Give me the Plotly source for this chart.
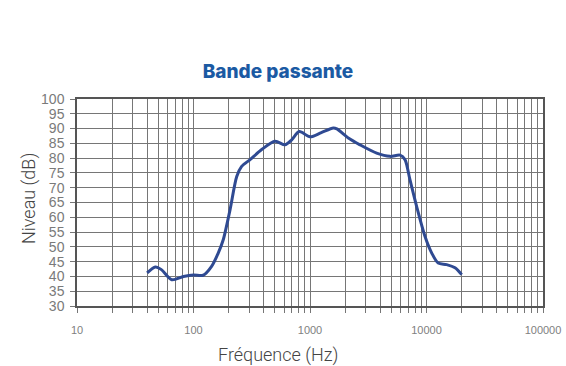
import plotly.graph_objects as go

freq_hz = [40, 47, 53, 65, 82, 100, 121, 143, 163, 180, 206, 235, 259, 306, 385, 501, 610, 696, 809,
           1000, 1250, 1585, 1700, 2133, 2686, 3733, 4865, 5929, 6536, 7210, 8225, 9713, 11090,
           12600, 14880, 17570, 20050]
level_db = [41.2, 43.2, 42.3, 38.9, 40.0, 40.5, 40.4, 43.4, 47.9, 52.4, 62.6, 73.8, 77.2, 79.5, 82.9,
            85.7, 84.5, 86.2, 89.0, 87.2, 88.6, 90.2, 89.9, 86.8, 84.5, 81.7, 80.6, 81.0, 79.5, 72.7,
            63.7, 53.5, 47.9, 44.5, 44.0, 42.9, 40.6]

x_grid_vals = [m * 10 ** e for e in range(1, 5) for m in range(1, 10)] + [100000]
x_major_vals = [10, 100, 1000, 10000, 100000]
x_tick_text = [str(v) if v in x_major_vals else "" for v in x_grid_vals]
y_tick_vals = list(range(30, 101, 5))

title_text = "Bande passante"
x_title = "Fréquence (Hz)"
y_title = "Niveau (dB)"

grid_color = "#767676"
W, H = 566, 366
ML, MR, MT, MB = 77, 23, 99, 60

fig = go.Figure()
fig.add_trace(go.Scatter(
    x=freq_hz, y=level_db, mode="lines",
    line=dict(color="#2f4a92", width=3, shape="spline", smoothing=0.8),
    hoverinfo="skip",
))

fig.update_layout(
    width=W, height=H,
    margin=dict(l=ML, r=MR, t=MT, b=MB),
    paper_bgcolor="white", plot_bgcolor="white",
    showlegend=False,
    title=dict(text=title_text, x=278 / W, xanchor="center", xref="container",
               y=1 - 71 / H, yanchor="middle", yref="container",
               font=dict(family="Inter", size=19, weight=800, color="#1b5aa3")),
    annotations=[
        dict(text=x_title, xref="paper", yref="paper",
             x=(278 - ML) / (W - ML - MR), y=-(355 - (H - MB)) / (H - MT - MB),
             xanchor="center", yanchor="middle", showarrow=False,
             font=dict(family="Roboto", size=18, weight=300, color="#444444")),
        dict(text=y_title, xref="paper", yref="paper", textangle=-90,
             x=-(ML - 29) / (W - ML - MR), y=1 - (199 - MT) / (H - MT - MB),
             xanchor="center", yanchor="middle", showarrow=False,
             font=dict(family="Roboto", size=18, weight=300, color="#444444")),
    ],
)

fig.update_xaxes(
    type="log", range=[1, 5], automargin=False,
    tickmode="array", tickvals=x_grid_vals, ticktext=x_tick_text,
    showgrid=True, gridcolor=grid_color, gridwidth=1.2,
    ticks="outside", ticklen=5, tickcolor=grid_color, tickwidth=1,
    ticklabelstandoff=8,
    tickfont=dict(family="Liberation Sans", size=11, color="#808080"),
    showline=True, linecolor="#555555", linewidth=1.5, mirror=True,
    zeroline=False,
)
fig.update_yaxes(
    range=[30, 100], automargin=False,
    tickmode="array", tickvals=y_tick_vals,
    showgrid=True, gridcolor=grid_color, gridwidth=1.4,
    ticks="outside", ticklen=5, tickcolor=grid_color, tickwidth=1,
    ticklabelstandoff=3,
    tickfont=dict(family="Liberation Sans Narrow, Arial Narrow, Liberation Sans", size=14, color="#7a7a7a"),
    showline=True, linecolor="#555555", linewidth=1.5, mirror=True,
    zeroline=False,
)

fig.write_html("out.html", config={"displayModeBar": False},
               post_script="document.body.style.margin='0';")
